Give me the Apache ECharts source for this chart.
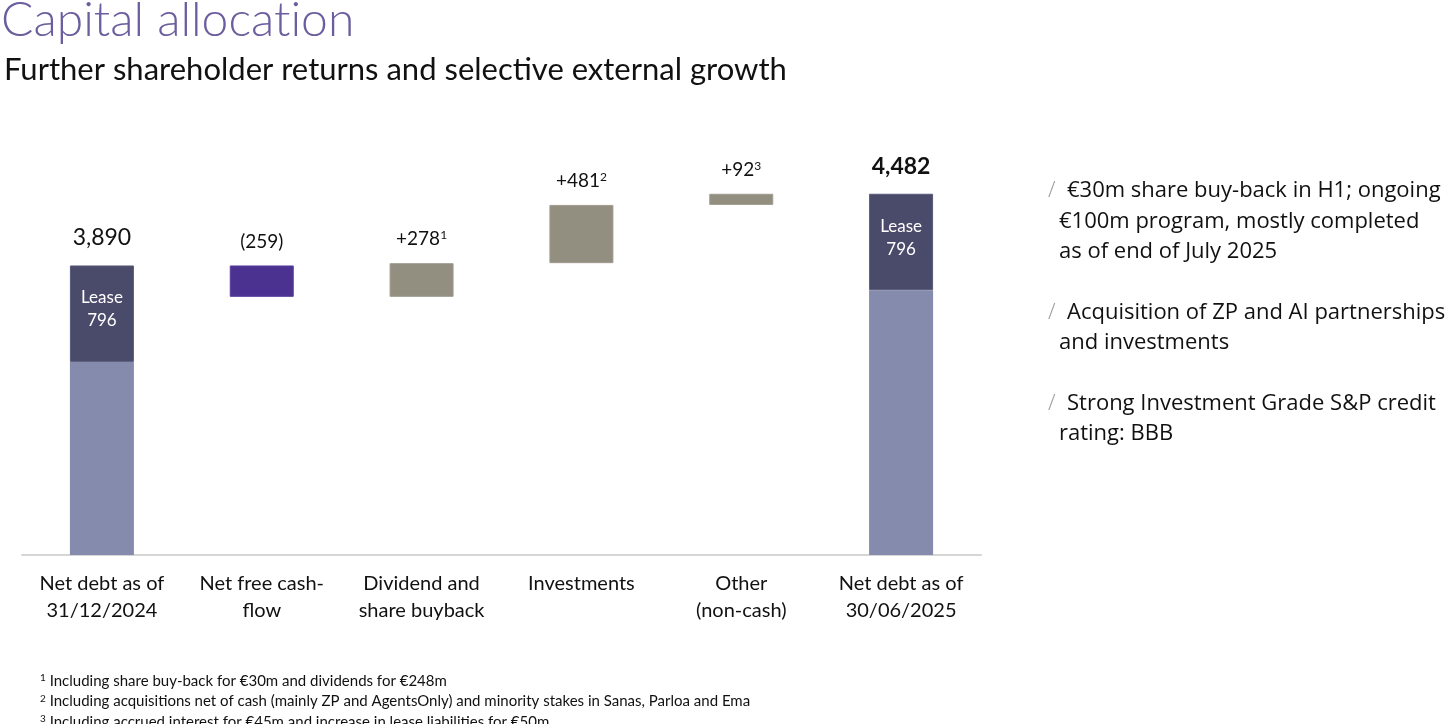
<!DOCTYPE html>
<html>
<head>
<meta charset="utf-8">
<script src="https://cdn.jsdelivr.net/npm/echarts@6/dist/echarts.min.js"></script>
<style>
html,body{margin:0;padding:0;background:#fff;}
#c{width:1456px;height:724px;}
</style>
</head>
<body>
<div id="c"></div>
<script>
// ---- data ----
const categories = ['Net debt as of\n31/12/2024', 'Net free cash-\nflow', 'Dividend and\nshare buyback', 'Investments', 'Other\n(non-cash)', 'Net debt as of\n30/06/2025'];
const startTotal = 3890;
const endTotal = 4482;
const leaseValue = 796;
const changes = [-259, 278, 481, 92]; // movements between the two totals
const topLabels = ['3,890', '(259)', '+278', '+481', '+92', '4,482'];
const topNotes = ['', '', '1', '2', '3', ''];
const leaseLabel = 'Lease\n796';
const bullets = [
  ['€30m share buy-back in H1; ongoing', '€100m program, mostly completed', 'as of end of July 2025'],
  ['Acquisition of ZP and AI partnerships', 'and investments'],
  ['Strong Investment Grade S&P credit', 'rating: BBB']
];
const footnoteMarks = ['1', '2', '3'];
const footnotes = [
  'Including share buy-back for €30m and dividends for €248m',
  'Including acquisitions net of cash (mainly ZP and AgentsOnly) and minority stakes in Sanas, Parloa and Ema',
  'Including accrued interest for €45m and increase in lease liabilities for €50m'
];

// ---- build waterfall stacks ----
const n = categories.length;
const baseData = [], coreData = [], leaseData = [], negData = [], posData = [], labelData = [];
let running = startTotal;
for (let i = 0; i < n; i++) {
  baseData.push('-'); coreData.push('-'); leaseData.push('-'); negData.push('-'); posData.push('-'); labelData.push(0);
}
coreData[0] = startTotal - leaseValue; leaseData[0] = leaseValue;
coreData[n - 1] = endTotal - leaseValue; leaseData[n - 1] = leaseValue;
changes.forEach((c, k) => {
  const i = k + 1;
  if (c < 0) { running += c; baseData[i] = running; negData[i] = -c; }
  else { baseData[i] = running; posData[i] = c; running += c; }
});

const FONT = 'Lato, "Open Sans", sans-serif';
const chart = echarts.init(document.getElementById('c'));

const graphics = [
  { type: 'text', left: 1, top: -3, style: { text: 'Capital allocat\u200Cion', font: '300 48px Lato, sans-serif', fill: '#6C5E9E' } },
  { type: 'text', left: 4, top: 54, style: { text: 'Further shareholder returns and selective external growth', font: '31px Lato, sans-serif', fill: '#111' } }
];
let by = 176;
bullets.forEach((lines) => {
  graphics.push({ type: 'text', x: 1048, y: by, style: { text: '/', font: '300 22px "Open Sans", sans-serif', fill: '#9a9a9a', lineHeight: 30 } });
  lines.forEach((ln, j) => {
    graphics.push({ type: 'text', x: j === 0 ? 1067 : 1059, y: by + j * 30.5, style: { text: ln, font: '22px "Open Sans", sans-serif', fill: '#111', lineHeight: 30 } });
  });
  by += lines.length * 30.5 + 30;
});
footnotes.forEach((f, i) => {
  graphics.push({ type: 'text', x: 40, y: 673 + i * 20.5, style: {
    text: '{s|' + footnoteMarks[i] + '} ' + f,
    font: '15px Lato, sans-serif', fill: '#111',
    rich: { s: { fontSize: 10, fontFamily: 'Lato', fill: '#111', verticalAlign: 'top', padding: [0, 0, 6, 0] } }
  } });
});

const barW = 64;
chart.setOption({
  animation: false,
  backgroundColor: '#fff',
  graphic: graphics,
  grid: { left: 22, right: 475, top: 131, bottom: 169, containLabel: false },
  xAxis: {
    type: 'category', data: categories,
    axisLine: { lineStyle: { color: '#d6d6d6', width: 2 } },
    axisTick: { show: false },
    axisLabel: { color: '#111', fontFamily: FONT, fontSize: 20, lineHeight: 27, margin: 15, interval: 0 }
  },
  yAxis: { type: 'value', min: 1500, max: 5000, show: false, splitLine: { show: false } },
  series: [
    { type: 'bar', stack: 'w', barWidth: barW, data: baseData, itemStyle: { color: 'transparent' }, silent: true },
    { type: 'bar', stack: 'w', barWidth: barW, data: coreData, itemStyle: { color: '#858BAC' } },
    { type: 'bar', stack: 'w', barWidth: barW, data: leaseData, itemStyle: { color: '#4A4A6A', borderColor: '#5a5a7a', borderWidth: 1 },
      label: { show: true, position: 'insideTop', distance: 21, formatter: leaseLabel, color: '#fff', fontFamily: FONT, fontSize: 17, lineHeight: 23 } },
    { type: 'bar', stack: 'w', barWidth: barW, data: negData, itemStyle: { color: '#4B3190', borderColor: '#5a40a0', borderWidth: 1 } },
    { type: 'bar', stack: 'w', barWidth: barW, data: posData, itemStyle: { color: '#928E80', borderColor: '#a09c90', borderWidth: 1 } },
    { type: 'bar', stack: 'w', barWidth: barW,
      data: labelData.map((v, i) => (i === 0 || i === n - 1)
        ? { value: v, label: { fontSize: 23, fontWeight: i === n - 1 ? 'bold' : 'normal', distance: 16 } }
        : v),
      itemStyle: { color: 'transparent' },
      label: { show: true, position: 'top', distance: 14,
        formatter: (p) => topLabels[p.dataIndex] + (topNotes[p.dataIndex] ? '{s|' + topNotes[p.dataIndex] + '}' : ''),
        rich: { s: { fontSize: 12, fontFamily: FONT, color: '#111', verticalAlign: 'top', padding: [0, 0, 8, 0] } },
        color: '#111', fontFamily: FONT, fontSize: 19 } }
  ]
});
</script>
</body>
</html>
